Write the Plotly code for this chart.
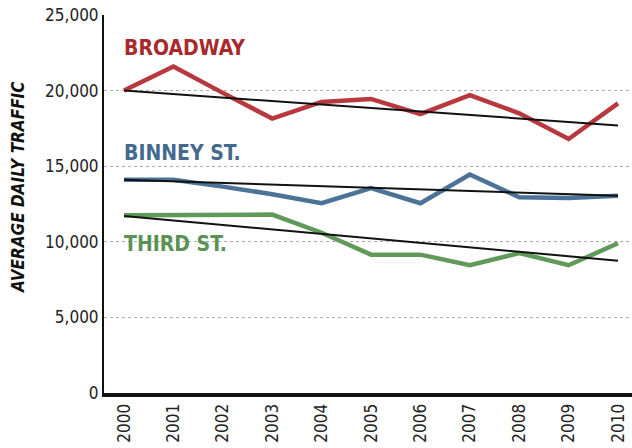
import plotly.graph_objects as go

# Average daily traffic counts by street, 2000-2010
years = [2000, 2001, 2002, 2003, 2004, 2005, 2006, 2007, 2008, 2009, 2010]
broadway = [20000, 21600, 19850, 18150, 19250, 19450, 18450, 19700, 18500, 16800, 19150]
binney = [14100, 14100, 13650, 13150, 12550, 13550, 12550, 14450, 12950, 12900, 13050]
third = [11750, 11750, 11800, 11800, 10600, 9150, 9150, 8450, 9250, 8450, 9900]

# Trend line end points (2000 and 2010) for each street
trend_years = [2000, 2010]
broadway_trend = [20000, 17700]
binney_trend = [14100, 13050]
third_trend = [11700, 8750]

y_ticks = [0, 5000, 10000, 15000, 20000, 25000]
y_tick_text = ["0", "5,000", "10,000", "15,000", "20,000", "25,000"]

RED = "#b8393d"
BLUE = "#4b7298"
GREEN = "#609a58"
COND = "DejaVu Sans Condensed, Liberation Sans, sans-serif"

fig = go.Figure()

for vals, color in [(broadway, RED), (binney, BLUE), (third, GREEN)]:
    fig.add_trace(go.Scatter(x=years, y=vals, mode="lines",
                             line=dict(color=color, width=4.5),
                             showlegend=False, hoverinfo="skip"))

for vals in [broadway_trend, binney_trend, third_trend]:
    fig.add_trace(go.Scatter(x=trend_years, y=vals, mode="lines",
                             line=dict(color="#111111", width=2),
                             showlegend=False, hoverinfo="skip"))

labels = [("BROADWAY", 22850, "#a8292d"),
          ("BINNEY ST.", 15850, "#44698f"),
          ("THIRD ST.", 9850, "#5a9254")]
for text, yv, color in labels:
    fig.add_annotation(x=2000, y=yv, text=f"<b>{text}</b>", showarrow=False,
                       xanchor="left", yanchor="middle", xshift=-2,
                       font=dict(family=COND, size=21, color=color))

# Rotated axis title
fig.add_annotation(xref="paper", yref="paper", x=0, y=0.545, xshift=-86,
                   text="<b><i>AVERAGE DAILY TRAFFIC</i></b>", textangle=-90,
                   showarrow=False, xanchor="center", yanchor="middle",
                   font=dict(family=COND, size=17, color="#111111"))

fig.update_layout(
    width=632, height=448,
    margin=dict(l=104, r=0, t=15, b=55),
    paper_bgcolor="white", plot_bgcolor="white",
    font=dict(family=COND, color="#222222"),
    xaxis=dict(range=[1999.595, 2010.283], tickmode="array", tickvals=years,
               ticktext=[str(y) for y in years], tickangle=-90,
               tickfont=dict(size=17, color="#222222"),
               showgrid=False, zeroline=False, showline=True,
               linecolor="#111111", linewidth=4, ticks=""),
    yaxis=dict(range=[0, 25000], tickmode="array", tickvals=y_ticks,
               ticktext=y_tick_text, tickfont=dict(size=17, color="#222222"),
               showgrid=True, gridcolor="#aaaaaa", griddash="dot", gridwidth=1,
               zeroline=False, showline=True, linecolor="#111111", linewidth=2,
               ticks="", ticklen=0),
)

fig.write_html("out.html")
